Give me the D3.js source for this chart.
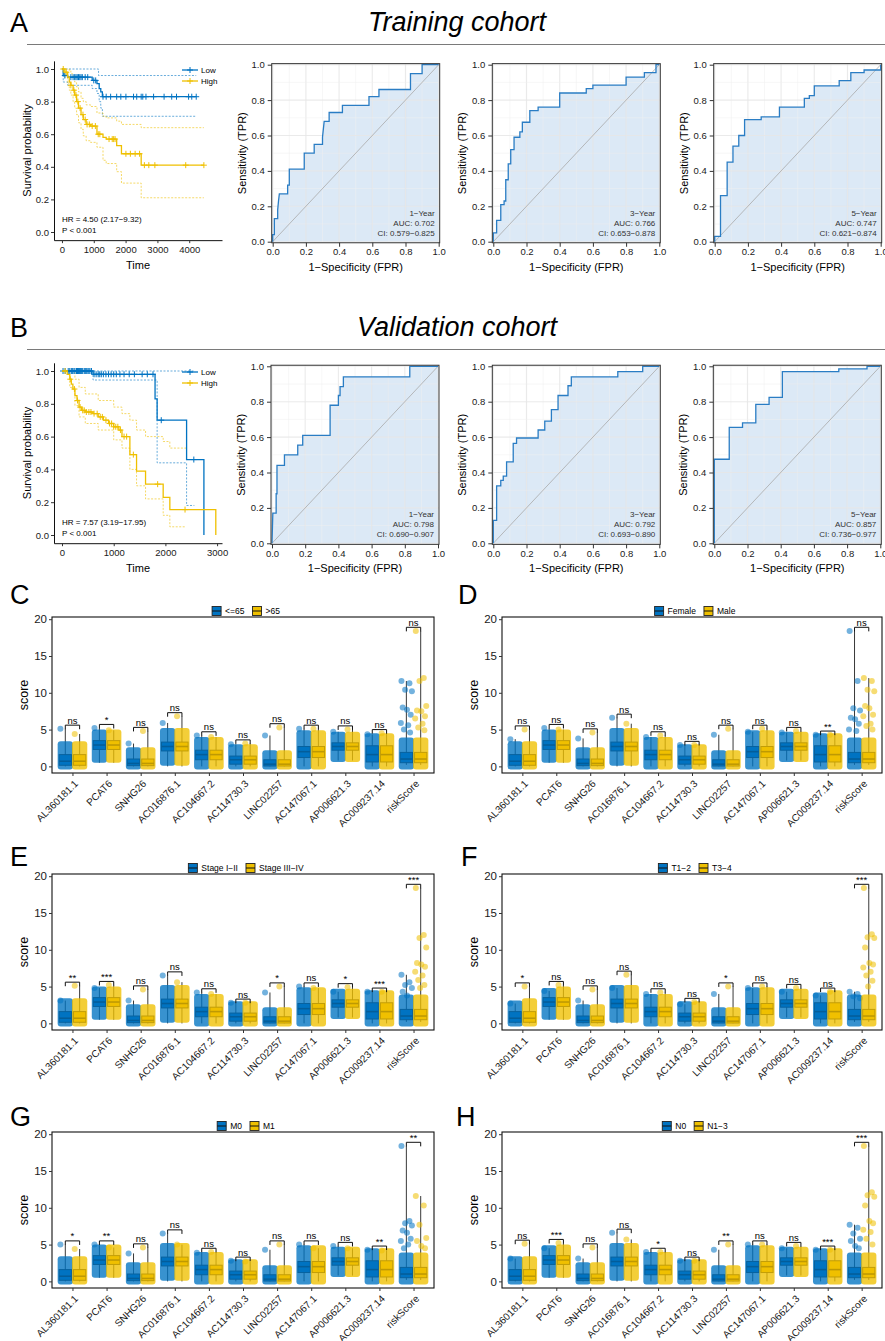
<!DOCTYPE html>
<meta charset="utf-8">
<style>
  body { margin: 0; background: #fff; }
  svg { font-family: "Liberation Sans", Arial, Helvetica, sans-serif; }
</style>
<svg width="885" height="1341"></svg>
<script src="https://d3js.org/d3.v7.min.js"></script>

<script>
    // ---------- colours ----------
    var blue = "#0073C2", yellow = "#EFC000";
    var groupColors = [blue, yellow];

    // ---------- Kaplan-Meier, training cohort ----------
    var trLowT = [0, 40, 180, 950, 1100, 1170, 1220, 1270, 4220];
    var trLowS = [1.0, 0.96, 0.95, 0.93, 0.91, 0.88, 0.86, 0.83, 0.83];
    var trLowCens = [90, 280, 350, 400, 440, 480, 520, 560, 600, 640, 730, 810, 1000, 1060, 1290, 1390, 1530, 1720,
        1850, 2010, 2250, 2350, 2490, 2540, 2640, 2880, 3210, 3450, 3600, 3980, 4080, 4220];
    var trLowUpT = [0, 1150, 4220], trLowUp = [1.0, 0.96, 0.96];
    var trLowLoT = [0, 40, 180, 950, 1100, 1170, 1220, 1270, 4220];
    var trLowLo = [1.0, 0.92, 0.90, 0.88, 0.85, 0.80, 0.76, 0.71, 0.71];

    var trHighT = [0, 90, 180, 230, 280, 350, 400, 460, 520, 600, 670, 760, 900, 1100, 1290, 1390, 1720, 1870, 2490, 4460];
    var trHighS = [1.0, 0.98, 0.95, 0.92, 0.90, 0.87, 0.84, 0.80, 0.76, 0.72, 0.69, 0.66, 0.65, 0.60, 0.58, 0.57, 0.53, 0.48, 0.41, 0.41];
    var trHighCens = [40, 135, 280, 375, 440, 500, 570, 660, 730, 790, 860, 950, 1050, 1140, 1190, 1480, 1580, 1625,
        1670, 2010, 2150, 2300, 2440, 2590, 2730, 2920, 3890, 4460];
    var trHighUpT = [0, 180, 230, 280, 350, 400, 460, 520, 600, 670, 760, 900, 1100, 1290, 1390, 1720, 1870, 2490, 4460];
    var trHighUp = [1.0, 1.0, 0.99, 0.97, 0.95, 0.92, 0.89, 0.86, 0.82, 0.80, 0.78, 0.77, 0.73, 0.71, 0.70, 0.68, 0.66, 0.64, 0.64];
    var trHighLoT = [0, 90, 180, 230, 280, 350, 400, 460, 520, 600, 670, 760, 900, 1100, 1290, 1390, 1720, 1870, 2490, 4460];
    var trHighLo = [1.0, 0.95, 0.91, 0.87, 0.84, 0.80, 0.76, 0.72, 0.67, 0.63, 0.59, 0.56, 0.55, 0.52, 0.44, 0.42, 0.37, 0.30, 0.21, 0.21];

    // ---------- Kaplan-Meier, validation cohort ----------
    var vaLowT = [0, 600, 1800, 1840, 2410, 2745];
    var vaLowS = [1.0, 0.98, 0.83, 0.70, 0.46, 0.0];
    var vaLowCens = [20, 60, 120, 150, 180, 200, 230, 250, 280, 300, 320, 340, 360, 380, 400, 430, 450, 470, 500, 520,
        540, 570, 620, 660, 700, 730, 760, 800, 850, 900, 950, 1000, 1050, 1120, 1200, 1300, 1400, 1550, 1650, 1760, 1920, 2550];
    var vaLowUpT = [0, 2550], vaLowUp = [1.0, 1.0];
    var vaLowLoT = [0, 600, 1840, 2410, 2560], vaLowLo = [1.0, 0.945, 0.44, 0.18, 0.18];

    var vaHighT = [0, 100, 150, 180, 210, 250, 290, 330, 380, 450, 600, 700, 800, 900, 1000, 1100, 1160, 1313, 1442, 1616, 1957, 2086, 2975];
    var vaHighS = [1.0, 0.98, 0.95, 0.92, 0.89, 0.85, 0.82, 0.78, 0.76, 0.75, 0.74, 0.72, 0.70, 0.68, 0.66, 0.64, 0.60, 0.49, 0.39, 0.31, 0.23, 0.155, 0.0];
    var vaHighCens = [60, 160, 240, 300, 350, 400, 430, 470, 520, 560, 620, 680, 740, 780, 850, 920, 960, 1000, 1040,
        1080, 1130, 1200, 1250, 1380, 1850, 2380];
    var vaHighUpT = [0, 150, 250, 330, 450, 700, 1000, 1160, 1313, 1442, 1616, 1957, 2086, 2400];
    var vaHighUp = [1.0, 1.0, 0.95, 0.90, 0.86, 0.82, 0.78, 0.74, 0.70, 0.64, 0.60, 0.57, 0.53, 0.53];
    var vaHighLoT = [0, 150, 250, 330, 450, 700, 1000, 1160, 1313, 1442, 1616, 1957, 2086, 2400];
    var vaHighLo = [1.0, 0.90, 0.79, 0.72, 0.68, 0.64, 0.58, 0.53, 0.40, 0.30, 0.22, 0.12, 0.05, 0.05];

    // ---------- ROC curves (fpr / tpr vertices) ----------
    var rocTr1Fpr = [0, 0, 0.01, 0.01, 0.03, 0.03, 0.035, 0.04, 0.09, 0.09, 0.10, 0.10, 0.19, 0.19, 0.25, 0.25, 0.30, 0.30, 0.31, 0.34, 0.34, 0.42, 0.42, 0.58, 0.58, 0.64, 0.64, 0.83, 0.83, 0.90, 0.90, 1];
    var rocTr1Tpr = [0, 0.04, 0.04, 0.13, 0.13, 0.18, 0.23, 0.27, 0.27, 0.32, 0.32, 0.41, 0.41, 0.50, 0.50, 0.55, 0.55, 0.59, 0.68, 0.68, 0.73, 0.73, 0.77, 0.77, 0.82, 0.82, 0.86, 0.86, 0.95, 0.95, 1.0, 1.0];
    var rocTr3Fpr = [0, 0, 0.02, 0.02, 0.045, 0.045, 0.065, 0.065, 0.075, 0.075, 0.09, 0.09, 0.105, 0.105, 0.125, 0.125, 0.16, 0.16, 0.175, 0.175, 0.22, 0.22, 0.27, 0.27, 0.40, 0.40, 0.56, 0.56, 0.60, 0.60, 0.80, 0.80, 0.91, 0.91, 0.98, 0.98, 1];
    var rocTr3Tpr = [0, 0.05, 0.05, 0.12, 0.12, 0.21, 0.21, 0.23, 0.23, 0.35, 0.35, 0.44, 0.44, 0.52, 0.52, 0.59, 0.59, 0.62, 0.62, 0.675, 0.675, 0.74, 0.74, 0.76, 0.76, 0.84, 0.84, 0.865, 0.865, 0.885, 0.885, 0.93, 0.93, 0.955, 0.955, 1.0, 1.0];
    var rocTr5Fpr = [0, 0, 0.035, 0.035, 0.075, 0.075, 0.11, 0.11, 0.145, 0.145, 0.18, 0.18, 0.28, 0.28, 0.39, 0.39, 0.54, 0.54, 0.57, 0.57, 0.60, 0.60, 0.75, 0.75, 0.82, 0.82, 0.90, 0.90, 1, 1];
    var rocTr5Tpr = [0, 0.03, 0.03, 0.26, 0.26, 0.45, 0.45, 0.54, 0.54, 0.60, 0.60, 0.69, 0.69, 0.705, 0.705, 0.76, 0.76, 0.81, 0.81, 0.825, 0.825, 0.88, 0.88, 0.91, 0.91, 0.955, 0.955, 0.97, 0.97, 1.0];
    var rocVa1Fpr = [0, 0.005, 0.025, 0.025, 0.03, 0.03, 0.075, 0.075, 0.155, 0.155, 0.185, 0.185, 0.35, 0.35, 0.40, 0.40, 0.41, 0.41, 0.43, 0.43, 0.83, 0.83, 1];
    var rocVa1Tpr = [0, 0.17, 0.17, 0.28, 0.28, 0.44, 0.44, 0.50, 0.50, 0.555, 0.555, 0.61, 0.61, 0.78, 0.78, 0.835, 0.835, 0.885, 0.885, 0.94, 0.94, 1.0, 1.0];
    var rocVa3Fpr = [0, 0, 0.02, 0.02, 0.045, 0.045, 0.06, 0.06, 0.08, 0.08, 0.12, 0.12, 0.14, 0.14, 0.27, 0.27, 0.31, 0.31, 0.35, 0.35, 0.39, 0.39, 0.45, 0.45, 0.47, 0.47, 0.75, 0.75, 0.90, 0.90, 1];
    var rocVa3Tpr = [0, 0.13, 0.13, 0.325, 0.325, 0.355, 0.355, 0.38, 0.38, 0.46, 0.46, 0.565, 0.565, 0.595, 0.595, 0.64, 0.64, 0.69, 0.69, 0.755, 0.755, 0.835, 0.835, 0.89, 0.89, 0.94, 0.94, 0.97, 0.97, 1.0, 1.0];
    var rocVa5Fpr = [0, 0, 0.09, 0.09, 0.17, 0.17, 0.25, 0.25, 0.33, 0.33, 0.41, 0.41, 0.75, 0.75, 0.92, 0.92, 1];
    var rocVa5Tpr = [0, 0.475, 0.475, 0.655, 0.655, 0.68, 0.68, 0.785, 0.785, 0.825, 0.825, 0.97, 0.97, 0.985, 0.985, 1.0, 1.0];

    // ---------- box plots ----------
    var genes = ["AL360181.1", "PCAT6", "SNHG26", "AC016876.1", "AC104667.2", "AC114730.3", "LINC02257",
        "AC147067.1", "AP006621.3", "AC009237.14", "riskScore"];
    var geneMin = [0, 0.5, 0, 0, 0, 0, 0, 0, 0.8, 0, 0.2];
    var geneQ1 = [0.15, 2.3, 0.1, 2.1, 0.9, 0.3, 0.05, 1.2, 2.2, 0.6, 0.5];
    var geneMed = [0.7, 2.9, 0.4, 2.7, 1.6, 0.9, 0.3, 2.0, 2.7, 1.6, 1.0];
    var geneQ3 = [1.6, 3.5, 1.0, 3.3, 2.2, 1.4, 0.9, 2.7, 3.2, 2.8, 1.9];
    var cloudLo = [0, 0.9, 0, 0.5, 0, 0, 0, 0, 1.0, 0, 0];
    var cloudHi = [3.0, 4.6, 2.2, 4.8, 3.6, 2.6, 1.8, 4.5, 4.3, 4.1, 3.5];

    var groupsC = ["<=65", ">65"];
    var sigC = ["ns", "*", "ns", "ns", "ns", "ns", "ns", "ns", "ns", "ns", "ns"];
    var maxBlueC = [5.1, 5.2, 3.1, 5.9, 4.2, 3.0, 4.2, 5.1, 4.7, 4.35, 11.6];
    var maxYellowC = [4.4, 4.9, 4.8, 6.8, 4.0, 3.1, 5.3, 5.1, 5.0, 4.5, 18.4];
    var riskBlueC = [11.6, 11.3, 10.4, 10.2, 8.0, 7.7, 7.0, 5.9, 5.6, 5.0, 4.6];
    var riskYellowC = [18.4, 12.0, 11.6, 8.2, 7.6, 7.5, 6.8, 6.5, 5.8, 5.3, 4.9];

    var groupsD = ["Female", "Male"];
    var sigD = ["ns", "ns", "ns", "ns", "ns", "ns", "ns", "ns", "ns", "**", "ns"];
    var maxBlueD = [3.7, 5.2, 3.8, 6.6, 4.0, 2.9, 4.3, 4.7, 4.6, 4.3, 18.4];
    var maxYellowD = [5.0, 5.0, 4.6, 5.8, 4.2, 2.9, 5.1, 5.1, 4.8, 4.3, 12.0];
    var riskBlueD = [18.4, 11.6, 7.9, 7.6, 6.6, 6.4, 5.8, 5.0, 4.8];
    var riskYellowD = [12.0, 11.6, 10.4, 10.2, 8.2, 7.9, 7.0, 6.8, 5.8, 5.5, 5.0];

    var groupsE = ["Stage I\u2212II", "Stage III\u2212IV"];
    var sigE = ["**", "***", "ns", "ns", "ns", "ns", "*", "ns", "*", "***", "***"];
    var maxBlueE = [3.1, 4.8, 3.1, 6.5, 4.2, 2.8, 4.2, 5.0, 4.3, 4.3, 6.6];
    var maxYellowE = [5.1, 5.2, 4.6, 5.6, 4.0, 2.8, 5.0, 4.8, 4.9, 4.3, 18.4];
    var riskBlueE = [6.6, 5.6, 5.2, 4.8, 4.3, 3.8];
    var riskYellowE = [18.4, 12.0, 11.6, 10.3, 8.2, 8.0, 7.7, 7.0, 6.5, 5.9, 5.2, 4.8];

    var groupsF = ["T1\u22122", "T3\u22124"];
    var sigF = ["*", "ns", "ns", "ns", "ns", "ns", "*", "ns", "ns", "ns", "***"];
    var maxBlueF = [2.7, 4.4, 3.1, 4.8, 4.0, 2.6, 4.0, 4.8, 4.3, 3.8, 4.3];
    var maxYellowF = [5.0, 5.2, 4.6, 6.6, 4.2, 2.9, 5.0, 5.0, 4.8, 4.3, 18.4];
    var riskBlueF = [4.3, 4.0, 3.7, 3.4];
    var riskYellowF = [18.4, 12.1, 11.7, 11.6, 10.3, 8.2, 8.0, 7.6, 7.0, 6.5, 5.8, 5.0];

    var groupsG = ["M0", "M1"];
    var sigG = ["*", "**", "ns", "ns", "ns", "ns", "ns", "ns", "ns", "**", "**"];
    var maxBlueG = [5.0, 5.0, 3.8, 6.5, 3.9, 2.8, 4.3, 5.0, 4.8, 4.3, 18.4];
    var maxYellowG = [4.4, 4.6, 4.6, 5.0, 4.0, 2.7, 5.0, 4.5, 4.5, 4.2, 11.6];
    var riskBlueG = [18.4, 8.2, 7.9, 7.6, 6.9, 6.6, 5.8, 5.5, 5.0, 4.5];
    var riskYellowG = [11.6, 10.3, 7.7, 5.9, 5.5, 4.8, 4.5];

    var groupsH = ["N0", "N1\u22123"];
    var sigH = ["ns", "***", "ns", "ns", "*", "ns", "**", "ns", "ns", "***", "***"];
    var maxBlueH = [3.1, 4.5, 3.1, 6.6, 4.0, 2.8, 4.3, 5.0, 4.5, 4.3, 7.7];
    var maxYellowH = [5.1, 5.2, 4.6, 5.7, 4.0, 2.8, 5.0, 5.0, 4.8, 4.3, 18.4];
    var riskBlueH = [7.7, 7.3, 6.5, 5.8, 5.5, 4.8, 4.5];
    var riskYellowH = [18.4, 12.1, 11.7, 11.5, 10.3, 8.2, 7.9, 7.0, 6.7, 5.8, 5.0];
</script>

<script>
    var svg = d3.select("svg");

    function addText(x, y, s, size, anchor) {
        return svg.append("text").attr("x", x).attr("y", y).text(s)
            .attr("font-size", size).attr("text-anchor", anchor || "start");
    }

    function styleAxis(sel, fs) {
        sel.attr("font-family", null).attr("font-size", null);
        sel.selectAll("text").attr("font-size", fs).attr("fill", "#1a1a1a");
        sel.selectAll(".tick line").attr("stroke", "#333");
        sel.select(".domain").attr("stroke", "#111");
    }

    function survAt(T, S, t) {
        var s = S[0];
        for (var i = 0; i < T.length; i++) if (T[i] <= t) s = S[i];
        return s;
    }

    function plus(g, x, y, color) {
        g.append("path").attr("d", "M" + (x - 3) + "," + y + "H" + (x + 3) + "M" + x + "," + (y - 3) + "V" + (y + 3))
            .attr("stroke", color).attr("stroke-width", 1);
    }

    // ---------- headers ----------
    addText(10, 32, "A", 27);
    addText(457, 31, "Training cohort", 27, "middle").attr("font-style", "italic");
    svg.append("line").attr("x1", 27).attr("x2", 885).attr("y1", 44.5).attr("y2", 44.5)
        .attr("stroke", "#7a7a7a").attr("stroke-width", 1.2);
    addText(10, 337, "B", 27);
    addText(457, 336, "Validation cohort", 27, "middle").attr("font-style", "italic");
    svg.append("line").attr("x1", 27).attr("x2", 885).attr("y1", 349.5).attr("y2", 349.5)
        .attr("stroke", "#7a7a7a").attr("stroke-width", 1.2);

    // ---------- KM ----------
    function drawKM(o) {
        var x = d3.scaleLinear().domain(o.xDom).range([54, 222]);
        var y = d3.scaleLinear().domain([-0.05, 1.05]).range(o.yRange);
        var g = svg.append("g");
        var step = d3.line().curve(d3.curveStepAfter).x(function (d) { return x(d[0]); }).y(function (d) { return y(d[1]); });

        o.curves.forEach(function (c) {
            [[c.upT, c.up], [c.loT, c.lo]].forEach(function (b) {
                g.append("path").attr("d", step(d3.zip(b[0], b[1])))
                    .attr("fill", "none").attr("stroke", c.color).attr("stroke-opacity", 0.75)
                    .attr("stroke-width", 0.8).attr("stroke-dasharray", "2,1.5");
            });
        });
        o.curves.forEach(function (c) {
            g.append("path").attr("d", step(d3.zip(c.t, c.s)))
                .attr("fill", "none").attr("stroke", c.color).attr("stroke-width", 1.3);
            c.cens.forEach(function (t) { plus(g, x(t), y(survAt(c.t, c.s, t)), c.color); });
        });

        var ax = g.append("g").attr("transform", "translate(54,0)")
            .call(d3.axisLeft(y).tickValues([0, 0.2, 0.4, 0.6, 0.8, 1]).tickFormat(d3.format(".1f"))
                .tickSize(3).tickPadding(2).tickSizeOuter(0));
        styleAxis(ax, 9.5);
        var bx = g.append("g").attr("transform", "translate(0," + o.yRange[0] + ")")
            .call(d3.axisBottom(x).tickValues(o.xTicks).tickFormat(d3.format("d"))
                .tickSize(3).tickPadding(3).tickSizeOuter(0));
        styleAxis(bx, 9.5);

        svg.append("text").attr("transform", "translate(27," + y(0.5) + ") rotate(-90)")
            .attr("text-anchor", "middle").attr("dy", "0.35em").attr("font-size", 11).text("Survival probability");
        addText(138, o.yRange[0] + 29, "Time", 11, "middle");

        // legend
        o.curves.forEach(function (c, k) {
            var ly = o.legY + k * 11;
            g.append("line").attr("x1", 182).attr("x2", 198).attr("y1", ly).attr("y2", ly)
                .attr("stroke", c.color).attr("stroke-width", 1.3);
            plus(g, 190, ly, c.color);
            addText(201, ly + 3, c.name, 8);
        });
        addText(62, o.hrY, o.hr, 8);
        addText(62, o.hrY + 10.5, "P < 0.001", 8);
    }

    drawKM({
        xDom: [-250, 5030], yRange: [240.15, 60.85], xTicks: [0, 1000, 2000, 3000, 4000],
        legY: 70, hrY: 222, hr: "HR = 4.50 (2.17\u22129.32)",
        curves: [
            {name: "Low", color: blue, t: trLowT, s: trLowS, cens: trLowCens, upT: trLowUpT, up: trLowUp, loT: trLowLoT, lo: trLowLo},
            {name: "High", color: yellow, t: trHighT, s: trHighS, cens: trHighCens, upT: trHighUpT, up: trHighUp, loT: trHighLoT, lo: trHighLo}
        ]
    });
    drawKM({
        xDom: [-155, 3095], yRange: [543.2, 362.8], xTicks: [0, 1000, 2000, 3000],
        legY: 372, hrY: 525, hr: "HR = 7.57 (3.19\u221217.95)",
        curves: [
            {name: "Low", color: blue, t: vaLowT, s: vaLowS, cens: vaLowCens, upT: vaLowUpT, up: vaLowUp, loT: vaLowLoT, lo: vaLowLo},
            {name: "High", color: yellow, t: vaHighT, s: vaHighS, cens: vaHighCens, upT: vaHighUpT, up: vaHighUp, loT: vaHighLoT, lo: vaHighLo}
        ]
    });

    // ---------- ROC ----------
    function drawROC(o) {
        var x = d3.scaleLinear().domain([0, 1]).range([o.x0, o.x0 + 166]);
        var y = d3.scaleLinear().domain([0, 1]).range([o.y0, o.y0 - 177]);
        var g = svg.append("g");
        var fx0 = x(-0.006), fx1 = x(1.006), fy0 = y(1.006), fy1 = y(-0.006);
        var pts = d3.zip(o.fpr, o.tpr);

        g.append("path").attr("d", d3.area().x(function (d) { return x(d[0]); }).y0(y(0)).y1(function (d) { return y(d[1]); })(pts))
            .attr("fill", "#dce9f6");
        d3.range(0, 1.01, 0.1).forEach(function (v, i) {
            var major = i % 2 === 0;
            var col = major ? "#e6e6e6" : "#efefef", sw = major ? 1.1 : 0.6;
            g.append("line").attr("x1", x(v)).attr("x2", x(v)).attr("y1", fy0).attr("y2", fy1).attr("stroke", col).attr("stroke-width", sw).attr("stroke-opacity", 0.85);
            g.append("line").attr("y1", y(v)).attr("y2", y(v)).attr("x1", fx0).attr("x2", fx1).attr("stroke", col).attr("stroke-width", sw).attr("stroke-opacity", 0.85);
        });
        g.append("line").attr("x1", x(0)).attr("y1", y(0)).attr("x2", x(1)).attr("y2", y(1))
            .attr("stroke", "#a9a9a9").attr("stroke-width", 0.8);
        g.append("path").attr("d", d3.line().x(function (d) { return x(d[0]); }).y(function (d) { return y(d[1]); })(pts))
            .attr("fill", "none").attr("stroke", "#2a7dc4").attr("stroke-width", 1.3);
        g.append("rect").attr("x", fx0).attr("y", fy0).attr("width", fx1 - fx0).attr("height", fy1 - fy0)
            .attr("fill", "none").attr("stroke", "#333").attr("stroke-width", 1);

        var ticks = [0, 0.2, 0.4, 0.6, 0.8, 1];
        var ax = g.append("g").attr("transform", "translate(" + fx0 + ",0)")
            .call(d3.axisLeft(y).tickValues(ticks).tickFormat(d3.format(".1f")).tickSize(4).tickPadding(3));
        ax.select(".domain").remove();
        styleAxis(ax, 9.5);
        var bx = g.append("g").attr("transform", "translate(0," + fy1 + ")")
            .call(d3.axisBottom(y.copy().range([o.x0, o.x0 + 166])).tickValues(ticks).tickFormat(d3.format(".1f")).tickSize(4).tickPadding(2));
        bx.select(".domain").remove();
        styleAxis(bx, 9.5);

        svg.append("text").attr("transform", "translate(" + (o.x0 - 31) + "," + y(0.5) + ") rotate(-90)")
            .attr("text-anchor", "middle").attr("dy", "0.35em").attr("font-size", 11).text("Sensitivity (TPR)");
        addText(x(0.5), o.y0 + 29, "1\u2212Specificity (FPR)", 11, "middle");

        o.labels.forEach(function (s, i) {
            addText(x(1) - 4, o.y0 - 26 + i * 10, s, 8, "end").attr("fill", "#333");
        });
    }

    drawROC({x0: 272.7, y0: 241.7, fpr: rocTr1Fpr, tpr: rocTr1Tpr, labels: ["1\u2212Year", "AUC: 0.702", "CI: 0.579\u22120.825"]});
    drawROC({x0: 493.3, y0: 241.7, fpr: rocTr3Fpr, tpr: rocTr3Tpr, labels: ["3\u2212Year", "AUC: 0.766", "CI: 0.653\u22120.878"]});
    drawROC({x0: 714.7, y0: 241.7, fpr: rocTr5Fpr, tpr: rocTr5Tpr, labels: ["5\u2212Year", "AUC: 0.747", "CI: 0.621\u22120.874"]});
    drawROC({x0: 272.0, y0: 543.3, fpr: rocVa1Fpr, tpr: rocVa1Tpr, labels: ["1\u2212Year", "AUC: 0.798", "CI: 0.690\u22120.907"]});
    drawROC({x0: 493.3, y0: 543.3, fpr: rocVa3Fpr, tpr: rocVa3Tpr, labels: ["3\u2212Year", "AUC: 0.792", "CI: 0.693\u22120.890"]});
    drawROC({x0: 714.3, y0: 543.3, fpr: rocVa5Fpr, tpr: rocVa5Tpr, labels: ["5\u2212Year", "AUC: 0.857", "CI: 0.736\u22120.977"]});

    // ---------- box plots ----------
    var jit = [-0.8, 0.5, -0.2, 0.9, -0.6, 0.1, 0.7, -0.9, 0.3, -0.4, 0.6, -0.1];

    function drawBox(o) {
        var H = 156, bottom = o.top + H;
        var x = d3.scalePoint().domain(genes).range([o.left, o.right]).padding(0.6);
        var st = x.step(), off = 0.21 * st, bw = 0.36 * st;
        var y = d3.scaleLinear().domain([-0.9, 20.3]).range([bottom, o.top]);
        var g = svg.append("g");
        var maxes = [o.maxBlue, o.maxYellow], risks = [o.riskBlue, o.riskYellow];

        genes.forEach(function (gene, i) {
            [0, 1].forEach(function (k) {
                var cx = x(gene) + (k ? off : -off), mx = maxes[k][i];
                g.append("line").attr("x1", cx).attr("x2", cx).attr("y1", y(geneMin[i])).attr("y2", y(mx))
                    .attr("stroke", "#222").attr("stroke-width", 0.9);
                g.append("rect").attr("x", cx - bw / 2).attr("width", bw).attr("y", y(geneQ3[i]))
                    .attr("height", y(geneQ1[i]) - y(geneQ3[i])).attr("fill", groupColors[k])
                    .attr("stroke", "#222").attr("stroke-width", 1);
                g.append("line").attr("x1", cx - bw / 2).attr("x2", cx + bw / 2).attr("y1", y(geneMed[i])).attr("y2", y(geneMed[i]))
                    .attr("stroke", "#111").attr("stroke-width", 1.6);
            });
        });
        genes.forEach(function (gene, i) {
            [0, 1].forEach(function (k) {
                var cx = x(gene) + (k ? off : -off), mx = maxes[k][i];
                var hi = Math.min(cloudHi[i], mx);
                g.append("rect").attr("x", cx - bw / 2 - 1.5).attr("width", bw + 3)
                    .attr("y", y(hi) - 3).attr("height", y(cloudLo[i]) - y(hi) + 6).attr("rx", 3)
                    .attr("fill", groupColors[k]).attr("fill-opacity", 0.78);
                var pts = gene === "riskScore" ? risks[k] : [mx];
                pts.forEach(function (v, j) {
                    g.append("circle").attr("cx", cx + jit[j % jit.length] * bw / 2).attr("cy", y(v)).attr("r", 3)
                        .attr("fill", groupColors[k]).attr("fill-opacity", 0.55);
                });
            });
            // significance bracket
            var top = Math.max(o.maxBlue[i], o.maxYellow[i]) + 0.5;
            var x1 = x(gene) - off, x2 = x(gene) + off, yb = y(top), yl = y(top - 0.55);
            g.append("path").attr("d", "M" + x1 + "," + yl + "V" + yb + "H" + x2 + "V" + yl)
                .attr("fill", "none").attr("stroke", "#111").attr("stroke-width", 1);
            addText(x(gene), yb - 1.5, o.sig[i], 9.5, "middle");
        });

        g.append("rect").attr("x", o.left).attr("y", o.top).attr("width", o.right - o.left).attr("height", H)
            .attr("fill", "none").attr("stroke", "#111").attr("stroke-width", 1.1);
        var ax = g.append("g").attr("transform", "translate(" + o.left + ",0)")
            .call(d3.axisLeft(y).tickValues([0, 5, 10, 15, 20]).tickSize(3).tickPadding(2));
        ax.select(".domain").remove();
        styleAxis(ax, 11.5);
        var bx = g.append("g").attr("transform", "translate(0," + bottom + ")")
            .call(d3.axisBottom(x).tickSize(3).tickFormat(""));
        bx.select(".domain").remove();
        styleAxis(bx, 10);
        genes.forEach(function (gene) {
            svg.append("text").attr("transform", "translate(" + (x(gene) + 1) + "," + (bottom + 6) + ") rotate(-45)")
                .attr("text-anchor", "end").attr("dy", "0.75em").attr("font-size", 10).attr("fill", "#1a1a1a").text(gene);
        });
        svg.append("text").attr("transform", "translate(" + (o.left - 28) + "," + (o.top + H / 2) + ") rotate(-90)")
            .attr("text-anchor", "middle").attr("dy", "0.35em").attr("font-size", 12.5).text("score");

        // legend
        var lg = svg.append("g"), lx = 0, ly = o.top - 6;
        o.groups.forEach(function (lab, k) {
            lg.append("rect").attr("x", lx).attr("y", ly - 4.5).attr("width", 9).attr("height", 9)
                .attr("fill", groupColors[k]).attr("stroke", "#222").attr("stroke-width", 0.9);
            lg.append("line").attr("x1", lx).attr("x2", lx + 9).attr("y1", ly).attr("y2", ly).attr("stroke", "#111").attr("stroke-width", 1);
            var t = lg.append("text").attr("x", lx + 13).attr("y", ly + 3).attr("font-size", 8.5).text(lab);
            lx += 13 + t.node().getComputedTextLength() + 8;
        });
        lg.attr("transform", "translate(" + ((o.left + o.right) / 2 + 3 - (lx - 8) / 2) + ",0)");

        addText(o.letterX, o.letterY, o.letter, 27);
    }

    drawBox({letter: "C", letterX: 10, letterY: 604, left: 52, right: 434, top: 617, groups: groupsC, sig: sigC,
        maxBlue: maxBlueC, maxYellow: maxYellowC, riskBlue: riskBlueC, riskYellow: riskYellowC});
    drawBox({letter: "D", letterX: 458, letterY: 604, left: 502, right: 882, top: 617, groups: groupsD, sig: sigD,
        maxBlue: maxBlueD, maxYellow: maxYellowD, riskBlue: riskBlueD, riskYellow: riskYellowD});
    drawBox({letter: "E", letterX: 10, letterY: 866, left: 52, right: 434, top: 874, groups: groupsE, sig: sigE,
        maxBlue: maxBlueE, maxYellow: maxYellowE, riskBlue: riskBlueE, riskYellow: riskYellowE});
    drawBox({letter: "F", letterX: 461, letterY: 866, left: 502, right: 882, top: 874, groups: groupsF, sig: sigF,
        maxBlue: maxBlueF, maxYellow: maxYellowF, riskBlue: riskBlueF, riskYellow: riskYellowF});
    drawBox({letter: "G", letterX: 10, letterY: 1126, left: 52, right: 434, top: 1132, groups: groupsG, sig: sigG,
        maxBlue: maxBlueG, maxYellow: maxYellowG, riskBlue: riskBlueG, riskYellow: riskYellowG});
    drawBox({letter: "H", letterX: 456, letterY: 1126, left: 502, right: 882, top: 1132, groups: groupsH, sig: sigH,
        maxBlue: maxBlueH, maxYellow: maxYellowH, riskBlue: riskBlueH, riskYellow: riskYellowH});
</script>
